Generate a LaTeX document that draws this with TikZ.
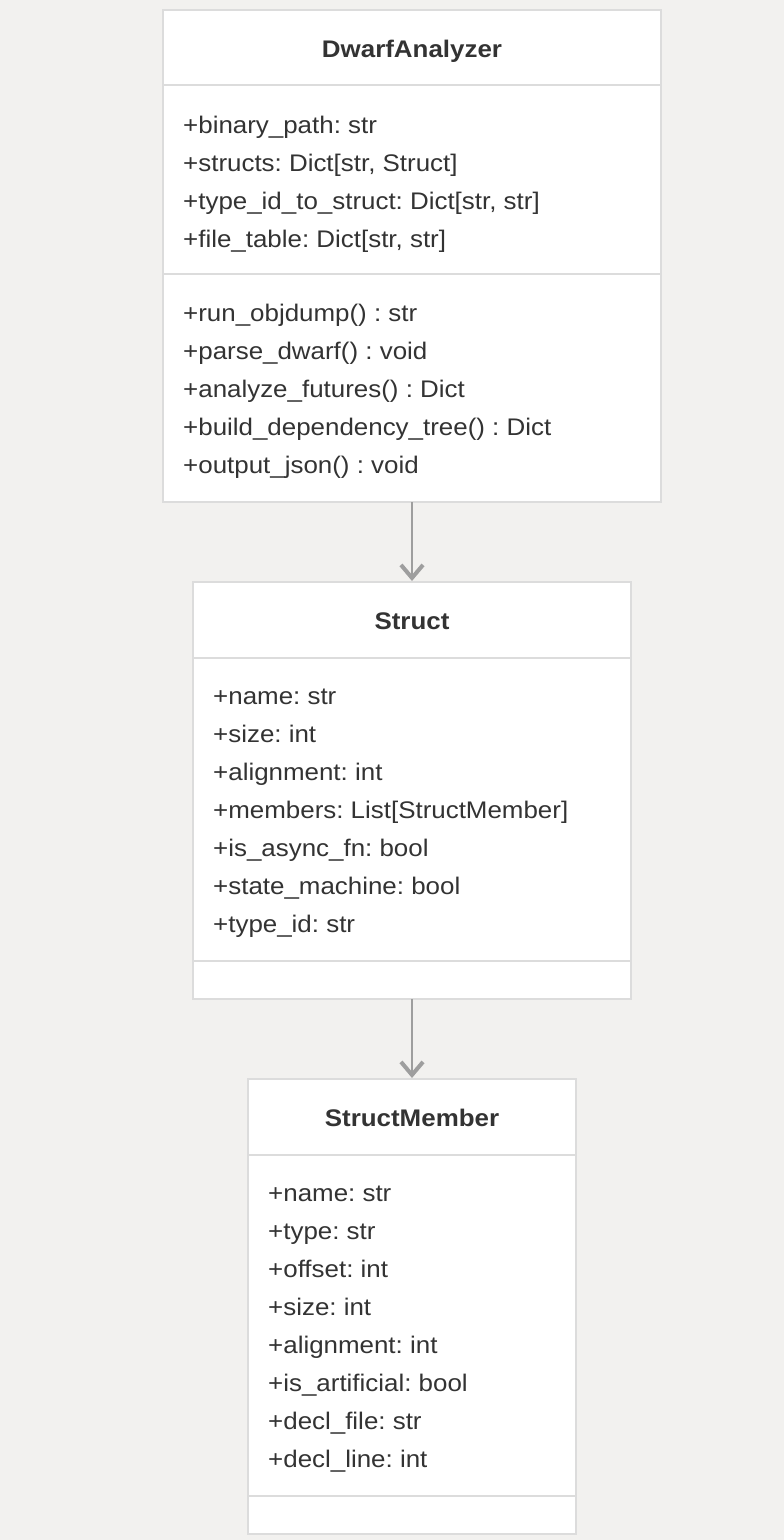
\documentclass[tikz,border=0pt]{standalone}
\usepackage{fontspec}
\setmainfont{Liberation Sans}[FakeStretch=1.08]
\usetikzlibrary{arrows.meta}
\definecolor{bgc}{HTML}{F2F1EF}
\definecolor{bordc}{HTML}{DCDCDC}
\definecolor{arrc}{HTML}{9E9E9E}
\definecolor{txtc}{HTML}{333333}
\tikzset{
  classbox/.style={draw=bordc, line width=1.5pt, fill=white, inner sep=0pt, outer sep=0pt},
  sepline/.style={draw=bordc, line width=1.5pt},
  title/.style={font=\fontsize{24}{28}\selectfont\bfseries\frenchspacing, text=txtc, inner sep=0pt, anchor=base},
  member/.style={font=\fontsize{24}{28}\selectfont\frenchspacing, text=txtc, anchor=base west, inner sep=0pt},
  link/.style={draw=arrc, line width=1.5pt, -{Straight Barb[length=13pt,width=22pt,line width=4pt,line cap=butt,line join=miter]}, shorten >=1pt},
}
\begin{document}
\begin{tikzpicture}[x=1pt,y=-1pt]
\useasboundingbox[fill=bgc] (0,0) rectangle (784,1540);
% DwarfAnalyzer
\node[classbox, minimum width=498pt, minimum height=492pt] (da) at (412,256) {};
\coordinate (daS1) at (163,85); \coordinate (daS1e) at (661,85);
\coordinate (daS2) at (163,274); \coordinate (daS2e) at (661,274);
\draw[sepline] (daS1) -- (daS1e);
\draw[sepline] (daS2) -- (daS2e);
\node[title] (daT) at (412,57) {DwarfAnalyzer};
\node[member] (da1) at (183,133) {+binary\_path: str};
\node[member] (da2) at (183,171) {+structs: Dict[str, Struct]};
\node[member] (da3) at (183,209) {+type\_id\_to\_struct: Dict[str, str]};
\node[member] (da4) at (183,247) {+file\_table: Dict[str, str]};
\node[member] (da5) at (183,321) {+run\_objdump() : str};
\node[member] (da6) at (183,359) {+parse\_dwarf() : void};
\node[member] (da7) at (183,397) {+analyze\_futures() : Dict};
\node[member] (da8) at (183,435) {+build\_dependency\_tree() : Dict};
\node[member] (da9) at (183,473) {+output\_json() : void};
% Struct
\node[classbox, minimum width=438pt, minimum height=417pt] (st) at (412,790.5) {};
\coordinate (stS1) at (193,658); \coordinate (stS1e) at (631,658);
\coordinate (stS2) at (193,961); \coordinate (stS2e) at (631,961);
\draw[sepline] (stS1) -- (stS1e);
\draw[sepline] (stS2) -- (stS2e);
\node[title] (stT) at (412,629) {Struct};
\node[member] (st1) at (213,704) {+name: str};
\node[member] (st2) at (213,742) {+size: int};
\node[member] (st3) at (213,780) {+alignment: int};
\node[member] (st4) at (213,818) {+members: List[StructMember]};
\node[member] (st5) at (213,856) {+is\_async\_fn: bool};
\node[member] (st6) at (213,894) {+state\_machine: bool};
\node[member] (st7) at (213,932) {+type\_id: str};
% StructMember
\node[classbox, minimum width=328pt, minimum height=455pt] (sm) at (412,1306.5) {};
\coordinate (smS1) at (248,1155); \coordinate (smS1e) at (576,1155);
\coordinate (smS2) at (248,1496); \coordinate (smS2e) at (576,1496);
\draw[sepline] (smS1) -- (smS1e);
\draw[sepline] (smS2) -- (smS2e);
\node[title] (smT) at (412,1126) {StructMember};
\node[member] (sm1) at (268,1201) {+name: str};
\node[member] (sm2) at (268,1239) {+type: str};
\node[member] (sm3) at (268,1277) {+offset: int};
\node[member] (sm4) at (268,1315) {+size: int};
\node[member] (sm5) at (268,1353) {+alignment: int};
\node[member] (sm6) at (268,1391) {+is\_artificial: bool};
\node[member] (sm7) at (268,1429) {+decl\_file: str};
\node[member] (sm8) at (268,1467) {+decl\_line: int};
% connectors
\draw[link] (da.south) -- (st.north);
\draw[link] (st.south) -- (sm.north);
\end{tikzpicture}
\end{document}
